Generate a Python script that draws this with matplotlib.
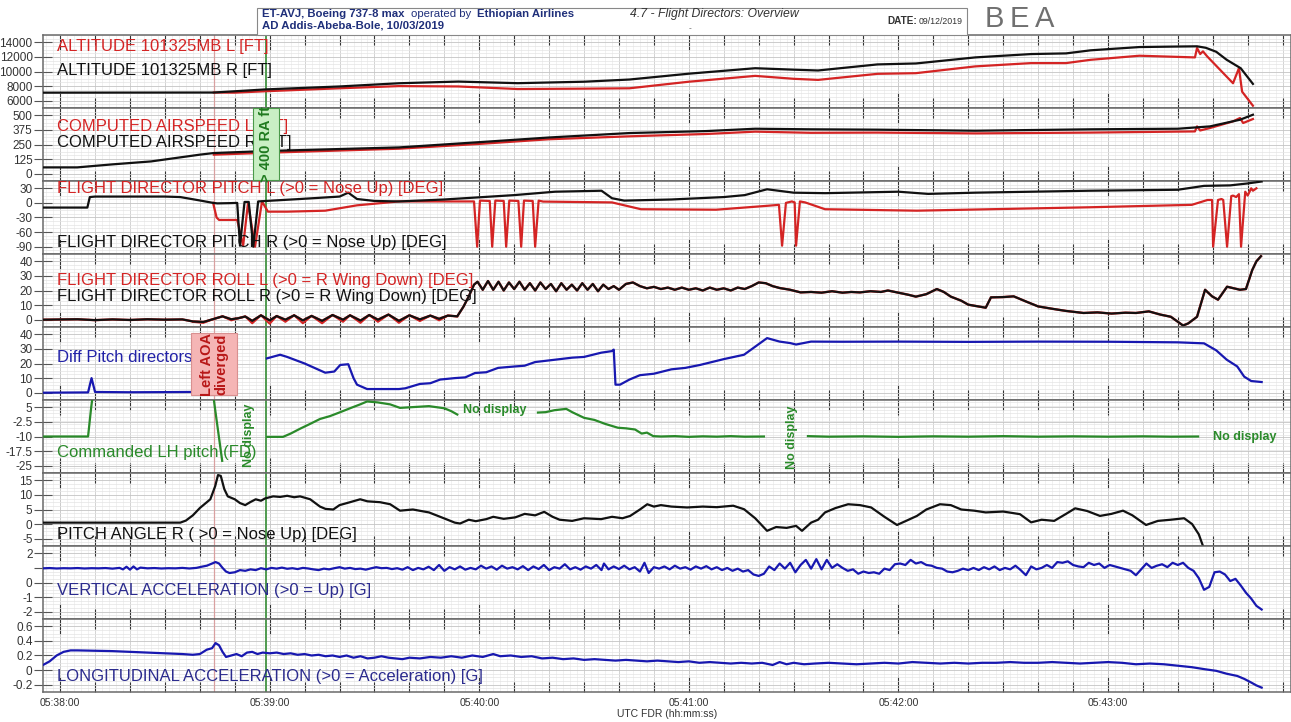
import matplotlib
matplotlib.use('Agg')
import matplotlib.pyplot as plt
from matplotlib.ticker import MultipleLocator, FuncFormatter
from matplotlib.patches import Rectangle
import numpy as np

plt.rcParams['font.family'] = ['Liberation Sans', 'DejaVu Sans']

W, H = 1291, 722
NAN = float('nan')

# time in seconds after 05:38:00 UTC
alt_r = [(-4.9, 7100), (44, 7120), (59, 7550), (80, 7950), (97, 8390), (114, 8620), (131, 8400),
         (150, 8600), (163, 8900), (180, 9700), (199, 10450), (210, 10250), (217, 10140), (234, 10970),
         (245, 11100), (262, 11930), (278, 12390), (288, 12480), (295, 12900), (309, 13350), (320, 13420),
         (325.5, 13450), (328, 13250), (331, 12700), (334, 11600), (338, 10450), (341.5, 8300)]
alt_l = [(44, 7120), (50, 7100), (59, 7300), (80, 7700), (97, 8000), (114, 7950), (131, 7600),
         (150, 7650), (163, 7700), (180, 8600), (199, 9400), (210, 9000), (217, 8850), (234, 9680),
         (245, 9770), (262, 10700), (278, 11150), (288, 11150), (295, 11600), (309, 12160), (324.9, 11930),
         (325.5, 13220), (326.4, 12390), (327.2, 12760), (328.4, 12070), (335.8, 8390), (337.5, 10460),
         (338.4, 7240), (341.5, 5310)]

cas_r = [(-4.9, 54), (4.9, 54), (15, 80), (26, 105), (40, 163), (44, 177), (60, 195), (97, 225),
         (120, 270), (140, 310), (163, 348), (185, 365), (199, 385), (215, 380), (234, 377), (262, 368),
         (295, 380), (320, 385), (329.2, 405), (337.8, 462), (341.5, 505)]
cas_l = [(44, 163), (60, 180), (97, 214), (120, 255), (140, 295), (163, 320), (185, 340), (199, 360),
         (215, 350), (234, 352), (262, 345), (295, 352), (324.9, 362), (325.5, 405), (326.4, 370),
         (329.2, 391), (335.8, 448), (337.8, 477), (338.7, 434), (341.5, 468)]

fd_pitch_r = [(-4.9, -9.6), (7.8, -9.6), (8.5, 12), (10, 13), (20, 13), (30, 13), (34.4, 12), (40, 5),
              (43.8, 0), (45, -1), (48.7, -0.5), (50.7, 0), (51.5, -88), (52.8, 2), (54, 2), (55.3, -90),
              (56.7, 3), (59, 4), (68.7, 8), (80, 13), (82.5, 21), (85, 8), (90, 4), (97, 3), (110, 7),
              (130, 16), (141.7, 23), (155, 25), (158, 9.6), (161.5, 4.7), (175, 7), (190, 12), (196, 16),
              (202.4, 28), (210, 21), (219, 20), (240, 23), (248.5, 18.5), (262, 21), (294.6, 25),
              (320, 27), (327.5, 35), (335, 36), (340, 40), (344, 44)]
fd_pitch_l = [(43.8, 0), (44.8, -30), (45.5, -35), (50.7, -35), (52.4, -88), (53.8, 0), (55.8, -90),
              (57.8, 3), (59.5, -18), (65, -18), (75.9, -16), (85, -5), (97, 3), (118.5, 3), (119.4, -90),
              (120.2, 4.7), (123, 4), (123.7, -90), (124.6, 4.7), (127, 4), (127.7, -90), (128.6, 4.7),
              (131.2, 4), (132, -90), (132.8, 4.7), (135.3, 4), (136, -90), (137, 4.7), (138.3, 2.7),
              (158, 1), (166.3, -13), (187.8, -14), (202.4, -6), (205.8, -4), (206.7, -88), (207.8, 0),
              (209.5, 3), (210.3, 1), (210.7, -88), (211.8, 3), (213.3, 1), (219, -13), (245.3, -16),
              (294.6, -9), (324, -4), (328.5, 6), (329.8, 6), (330.1, -90), (331.5, 6), (332.5, 8),
              (333, 6), (334.1, -90), (335.3, 14), (335.8, 15), (336.7, 12), (337.5, 18), (338.1, -90),
              (339.3, 23), (340, 15), (341, 30), (341.5, 25), (342.5, 30)]

fd_roll_r = [(-4.9, 0), (5, 0.3), (10, -0.3), (15, 0.2), (20, -0.2), (25, 0.3), (30, 0), (35, 0.2),
             (38, -1.2), (41, -1.6), (44, 0.5), (46.5, 2.3), (49, 0.3), (51, 1), (53, 2.2), (55, -0.8),
             (57.5, 3), (60, -0.5), (62, 2.5), (64.5, 0), (67, 3), (69.5, -0.5), (72, 2.6), (75, -0.8),
             (78, 3.2), (81, 0), (83, 3), (86, -0.6), (88.5, 3.2), (91, 0), (94, 3.5), (97, -0.8),
             (100, 3), (103, 0.2), (106, 2.8), (108.5, 0.6), (111, 2.8), (113.7, 2.3), (115.5, 9),
             (117, 16), (118.5, 24), (119.5, 26), (121, 20.5), (122.5, 26.5), (124, 20.5), (125.5, 26),
             (127, 20), (128.5, 25.5), (130, 21), (131.5, 26), (133, 20.5), (134.5, 25), (136, 20),
             (137.5, 25.5), (139, 21), (140.5, 24.5), (142, 19.5), (143.5, 25), (145, 20.5), (146.5, 24),
             (148, 20), (149.5, 25), (151, 20.5), (152.5, 24.5), (154, 19.5), (155.5, 24), (157, 21),
             (158.5, 23), (160, 20.5), (162, 24.5), (164, 25.5), (166, 23), (168, 21.5), (170, 22.5),
             (172, 21), (174, 22), (176, 20.5), (178, 22), (180, 20.5), (182, 21.5), (184, 20), (186, 22),
             (188, 20.5), (190, 21.5), (192, 20), (194, 22), (196, 21), (198, 23), (200, 25.5), (202, 25),
             (204, 23), (206, 21.7), (209, 20.5), (212, 18.7), (215, 19), (218, 18.5), (221, 19.5),
             (224, 18.5), (226.5, 19), (229, 18.7), (232, 19.5), (235, 19), (237, 20), (240, 18.5),
             (243, 17), (245, 15.8), (248, 17.5), (251, 21), (253, 19), (255, 15.8), (258, 13),
             (260, 10.3), (263, 9), (265, 8.2), (266.5, 15.3), (270, 15.5), (273, 16), (276.5, 12.5),
             (280, 9.1), (284, 7.5), (288, 6), (293, 4.6), (297, 5), (301, 4.2), (305, 4.8), (308, 4.6),
             (311.7, 5.7), (315, 3.5), (318, 2), (321.5, -4), (323, -2.5), (325.5, 2), (327.8, 20.5),
             (329.8, 16), (331.5, 13.7), (334.1, 22.6), (336, 21.5), (337.8, 20.5), (339.5, 21),
             (341.3, 34), (342.5, 40), (343.8, 43.5)]
fd_roll_l_dips = [(38, -1.5), (41, -2.2), (44, 0.5), (46.5, 2.3), (49, -0.5), (51, 1), (53, 2.2),
                  (55, -2.5), (57.5, 3), (60, -2.8), (62, 2.5), (64.5, -1.5), (67, 3), (69.5, -2.5),
                  (72, 2.6), (75, -2.5), (78, 3.2), (81, -1.5), (83, 3), (86, -2.2), (88.5, 3.2),
                  (91, -1.5), (94, 3.5), (97, -2.2), (100, 3), (103, -1), (106, 2.8), (108.5, -0.5),
                  (111, 2.8), (113.7, 2.3)]

diff_pitch = [(-4.9, 0), (8, 0.2), (9, 10), (10, 0.5), (20, 0.3), (30, 0.4), (44, 0.6), (50, NAN),
              (59.2, 23.5), (63, 26), (65, 24.5), (70, 20), (75.9, 13.7), (78.5, 14.5), (80.2, 19),
              (82.5, 19.5), (84, 10), (85, 5.5), (87.9, 2.5), (97, 2.5), (98.8, 3), (103, 6), (106, 6.5),
              (108.8, 9), (113, 10), (116, 10.5), (118.8, 13.5), (122, 14), (125.4, 17), (130.3, 18),
              (133, 18.5), (136, 21), (141.7, 22.6), (146.6, 24), (150, 24.5), (154.9, 27.4), (158, 28.5),
              (158.5, 29.5), (159, 5.5), (160.3, 5.5), (163, 9), (166, 12), (170, 13), (175, 16),
              (179, 17), (183.2, 19), (190, 23), (195.8, 26), (202.4, 37.4), (206, 35), (209, 34),
              (210.7, 33), (215, 35), (224, 34.9), (240, 35), (260, 34.8), (280, 35), (300, 34.9),
              (320, 34.5), (327.5, 33.8), (331, 29), (334, 22.6), (337, 18), (339, 11), (341, 8), (344, 7.3)]

cmd_pitch = [(-4.9, -10), (8.0, -10), (8.9, 5), (9.4, 12), (20, NAN),
             (43.8, 12), (44.3, 5), (46.4, -22.5), (50, NAN),
             (59.3, -10.2), (63.8, -10.2), (66, -8.5), (68.7, -6), (71.6, -3.5), (74.4, -1), (77.3, 0.5),
             (80.2, 2.5), (83, 4.5), (85.9, 6.5), (87.9, 8), (91, 7.5), (94.5, 6.5), (97.3, 4.7),
             (105.6, 5.6), (110, 4.5), (112, 3), (113.7, 1.3), (120, NAN),
             (136.8, 2.3), (139, 2.5), (141.5, 3.5), (144.9, 4.2), (146.6, 2.5), (150, -0.4), (153, -1.5),
             (156, -3.5), (159.7, -5.5), (162, -5.8), (164.6, -6.4), (166.5, -8.5), (168, -8),
             (169.8, -9.8), (172, -10), (176, -9.8), (180, -10.2), (184, -9.9), (188, -10.1), (192, -9.8),
             (196, -10.1), (201.5, -10), (205, NAN),
             (214.1, -9.8), (220, -10.1), (230, -9.9), (240, -10.2), (250, -9.9), (260, -10.1),
             (270, -9.8), (280, -10.1), (290, -9.9), (300, -10.1), (310, -9.9), (318, -10.1), (325.8, -10)]

pitch_att = [(-4.9, 0.5), (20, 0.5), (34.4, 0.5), (36, 1.2), (38, 3), (40, 5.5), (42, 7.5), (43, 8.5),
             (44.4, 13), (45.2, 16.8), (46, 16.5), (47, 12), (48, 9.5), (50, 8.5), (51.5, 7.2), (53, 6.5),
             (54.4, 7.5), (56, 8.5), (57.5, 8), (58.7, 8.8), (61, 9.5), (63, 9.3), (65, 9.7), (67, 9.2),
             (68.7, 9.5), (71.6, 8.5), (74.4, 6), (76, 5.2), (78.2, 5), (80, 6.5), (83, 7.5), (85.9, 8.5),
             (88, 7.8), (91.6, 7.5), (94.5, 6.8), (97.3, 4.6), (101, 5), (105.6, 4), (110.5, 1.7),
             (113, 0.5), (114.5, 0.2), (117, 1.5), (119, 1), (122, 1.7), (124, 2.5), (127, 1.8),
             (130.3, 2.3), (133, 3.5), (136, 3), (138.6, 4.2), (141, 2.5), (143, 1.5), (146.6, 1.1),
             (150, 2), (154.9, 1.7), (158, 2.5), (161, 2), (163.2, 2.8), (166, 5), (168.1, 6.8), (170, 6),
             (172, 6.5), (175, 6), (179.5, 5.7), (184, 6), (188, 5.8), (192.7, 6.3), (195.8, 5.1),
             (199, 2), (202.4, -2.3), (205, -1), (208, -1.3), (210.7, -0.6), (212.4, -2.3), (215, 0.5),
             (217, 1.5), (219, 4), (222, 5.5), (225.6, 6.8), (229, 6.5), (232.2, 5.7), (236, 2.5),
             (239.6, -0.3), (242, 1), (245.3, 2.8), (248, 5), (251.9, 6.8), (255, 6.5), (258, 5),
             (261.7, 4.6), (265, 4), (270, 4.3), (274.8, 3.4), (278, 0.6), (281, 1.5), (284.6, 1.1),
             (288, 3.5), (290.6, 5.4), (294, 4.5), (297.7, 2.8), (301, 3.5), (304.3, 4.6), (307, 3),
             (310.9, -0.3), (314.3, 1.1), (318, 1.5), (321.8, 2), (324.1, 0), (326, -3.5), (327.2, -7.5)]

vert_acc_t = [-4.9, -3, -1, 1, 3, 5, 7, 9, 11, 13, 15, 17, 18, 19, 20, 21, 22, 23, 25, 27, 29, 31, 33, 35,
              37, 39, 40.5, 42, 43.5, 44.5, 45.5, 46.5, 47.5, 48.5, 50, 51.5, 53, 54.5, 56, 57.5, 59, 60.5,
              62, 63.5, 65, 66.5, 68, 69.5, 71, 72.5, 74, 75.5, 77, 78.5, 80, 81.5, 83, 84.5, 86, 87.5,
              89, 90.5, 92, 93.5, 95, 96.5, 98, 99.5, 101, 102.5, 104, 105.5, 107, 108.5, 110, 111.5,
              113, 114.5, 116, 117.5, 119, 120.5, 122, 123.5, 125, 126.5, 128, 129.5, 131, 132.5, 134,
              135.5, 137, 138.5, 140, 141.5, 143, 144.5, 146, 147.5, 149, 150.5, 152, 153.5, 155, 155.7,
              157, 158.5, 160, 161.5, 163, 164.5, 166, 167.3, 168.5, 170, 171.5, 173, 174.5, 176, 177.5,
              179, 180.5, 182, 183.5, 185, 186.5, 188, 189.5, 191, 192.5, 194, 195.5, 197, 198.5, 200,
              201.5, 203, 204.5, 206, 207.5, 209, 210.5, 212, 213.5, 215, 216.5, 218, 219.5, 221, 222.5,
              224, 225.5, 227, 228.5, 230, 231.5, 233, 234.5, 236, 237.5, 239, 240.5, 242, 243.5, 245,
              246.5, 248, 249.5, 251, 252.5, 254, 255.5, 257, 258.5, 260, 261.5, 263, 264.5, 266, 267.5,
              269, 270.5, 272, 273.5, 275, 276.5, 278, 279.5, 281, 282.5, 284, 285.5, 287, 288.5, 290,
              291.5, 293, 294.5, 296, 297.5, 299, 300.5, 302, 303.5, 305, 306.5, 308, 309.5, 311, 312.5,
              314, 315.5, 317, 318.5, 320, 321.5, 323, 324.5, 326, 327.5, 329, 330.5, 332, 333.5, 335,
              336.5, 338, 339.5, 341, 342.5, 344]
vert_acc_g = [0.97, 0.99, 0.96, 0.98, 0.97, 0.99, 0.96, 0.98, 0.97, 0.99, 0.95, 1.0, 0.9, 1.08, 0.88, 1.1,
              0.9, 1.02, 0.97, 0.99, 0.96, 0.98, 0.97, 1.0, 0.96, 1.0, 1.08, 1.15, 1.3, 1.4, 1.3, 1.0,
              0.75, 0.65, 0.7, 0.85, 0.8, 0.9, 0.85, 0.98, 0.9, 1.0, 0.95, 1.02, 0.94, 0.98, 0.92, 1.0,
              0.96, 0.9, 0.85, 0.95, 0.9, 0.98, 1.05, 0.95, 1.0, 0.92, 0.95, 0.88, 0.97, 1.05, 0.98, 1.0,
              0.92, 0.98, 0.88, 1.05, 0.85, 1.0, 0.9, 1.08, 0.85, 1.2, 0.8, 1.05, 0.9, 1.1, 0.88, 1.0,
              0.9, 1.15, 0.95, 1.1, 0.88, 1.15, 0.95, 1.05, 0.9, 1.12, 0.85, 1.1, 0.92, 1.2, 0.85, 1.05,
              0.95, 1.25, 0.9, 1.05, 0.88, 1.1, 0.95, 1.2, 0.85, 1.3, 0.9, 1.1, 0.92, 1.15, 0.9, 1.05,
              0.75, 1.35, 0.65, 1.05, 0.95, 1.1, 0.9, 1.15, 0.95, 1.05, 0.88, 1.1, 0.95, 1.12, 0.9, 1.05,
              0.85, 1.0, 0.8, 0.95, 0.75, 0.85, 0.55, 0.45, 0.6, 1.1, 0.85, 1.3, 0.95, 1.35, 0.7, 1.2,
              1.55, 0.95, 1.6, 0.9, 1.55, 1.0, 1.25, 1.0, 0.8, 0.9, 0.6, 0.75, 0.65, 0.7, 0.6, 0.95,
              0.85, 1.25, 1.3, 1.2, 1.55, 1.3, 1.4, 1.2, 1.15, 1.0, 0.95, 0.75, 0.7, 0.8, 0.95, 0.85,
              1.0, 0.85, 1.05, 0.9, 1.1, 0.85, 1.0, 0.9, 1.15, 0.85, 0.5, 1.1, 0.9, 1.0, 1.2, 1.0, 1.4,
              1.35, 1.45, 1.2, 1.1, 1.05, 1.35, 1.2, 1.3, 1.0, 1.2, 1.1, 1.0, 0.9, 0.8, 0.5, 0.9, 1.3,
              1.0, 1.15, 1.25, 1.05, 1.35, 1.2, 1.35, 1.0, 0.8, 0.3, -0.5, -0.3, 0.7, 0.75, 0.55, 0.1,
              0.25, -0.2, -0.7, -1.1, -1.6, -1.85]

long_acc = [(-4.9, 0.07), (-3, 0.12), (-1, 0.2), (1, 0.25), (3, 0.27), (5, 0.27), (10, 0.265), (15, 0.26),
            (20, 0.25), (25, 0.24), (30, 0.23), (35, 0.22), (38, 0.21), (40, 0.22), (42, 0.28), (43.5, 0.3),
            (44.5, 0.37), (45.5, 0.34), (46.5, 0.25), (47.5, 0.18), (49, 0.2), (50.5, 0.22), (52, 0.19),
            (53.5, 0.24), (55, 0.25), (56.5, 0.22), (58, 0.24), (60, 0.23), (62, 0.24), (64, 0.22),
            (66, 0.23), (68, 0.21), (70, 0.22), (72, 0.2), (74, 0.21), (76, 0.19), (78, 0.2), (80, 0.18),
            (82, 0.2), (84, 0.17), (86, 0.19), (88, 0.16), (90, 0.17), (92, 0.19), (94, 0.17), (96, 0.16),
            (98, 0.15), (100, 0.17), (103, 0.16), (106, 0.18), (109, 0.17), (112, 0.19), (115, 0.17),
            (118, 0.2), (121, 0.18), (124, 0.22), (126, 0.19), (129, 0.2), (132, 0.18), (135, 0.19),
            (138, 0.16), (141, 0.17), (144, 0.15), (147, 0.16), (150, 0.14), (153, 0.15), (156, 0.14),
            (159, 0.13), (162, 0.14), (165, 0.13), (168, 0.12), (171, 0.13), (174, 0.12), (177, 0.11),
            (180, 0.12), (183, 0.1), (186, 0.11), (189, 0.1), (192, 0.09), (195, 0.1), (198, 0.09),
            (201, 0.1), (204, 0.07), (206, 0.11), (208, 0.08), (210, 0.1), (213, 0.08), (216, 0.09),
            (220, 0.1), (224, 0.09), (228, 0.08), (232, 0.09), (236, 0.1), (240, 0.09), (244, 0.11),
            (248, 0.1), (252, 0.09), (256, 0.1), (260, 0.09), (264, 0.1), (268, 0.1), (272, 0.11),
            (276, 0.1), (280, 0.1), (284, 0.11), (288, 0.1), (292, 0.09), (296, 0.1), (300, 0.11),
            (304, 0.1), (308, 0.08), (312, 0.09), (316, 0.08), (320, 0.06), (324, 0.04), (328, 0.01),
            (331, -0.01), (334, -0.05), (337, -0.08), (339, -0.12), (341, -0.17), (342.5, -0.21),
            (344, -0.24)]

panel_ticks = [[6000, 8000, 10000, 12000, 14000], [0, 125, 250, 375, 500], [-90, -60, -30, 0, 30],
               [0, 10, 20, 30, 40], [0, 10, 20, 30, 40], [-25, -17.5, -10, -2.5, 5],
               [-5, 0, 5, 10, 15], [-2, -1, 0, 1, 2], [-0.2, 0, 0.2, 0.4, 0.6]]

aoa_event_t = 44.1      # left AOA diverged
ra400_t = 59.0          # > 400 ft radio altitude

RED, BLACK, BLUE, GREEN = '#d42424', '#111111', '#1818b0', '#2a8a2a'


def px(x, y):
    return x / W, 1 - y / H


def lab(v):
    return str(int(v)) if float(v).is_integer() else str(v)


fig = plt.figure(figsize=(W / 100, H / 100), dpi=100)
fig.patch.set_facecolor('white')

x0, x1, top0, ph = 43, 1291, 35, 73
axes = []
for i, ticks in enumerate(panel_ticks):
    top = top0 + i * ph
    ax = fig.add_axes([x0 / W, 1 - (top + ph) / H, (x1 - x0) / W, ph / H])
    step = ticks[1] - ticks[0]
    lo, hi = ticks[0] - step / 2, ticks[-1] + step / 2
    ax.set_xlim(-4.9, 352.4)
    ax.set_ylim(lo, hi)
    ax.set_yticks(ticks)
    ax.set_yticklabels([lab(t) for t in ticks])
    ax.yaxis.set_minor_locator(MultipleLocator(step / 4))
    ax.xaxis.set_major_locator(MultipleLocator(60))
    ax.xaxis.set_minor_locator(MultipleLocator(10))
    ax.vlines(np.arange(-4, 352, 2), lo, hi, color='#ececec', lw=0.5, zorder=0)
    ax.grid(which='major', color='#c4c4c4', lw=0.6, zorder=0)
    ax.grid(which='minor', axis='x', color='#cfcfcf', lw=0.6, zorder=0)
    ax.grid(which='minor', axis='y', color='#e4e4e4', lw=0.5, zorder=0)
    ax.set_axisbelow(True)
    ax.tick_params(axis='y', which='major', direction='inout', length=13, width=0.8, color='#555',
                   labelsize=8.5, labelcolor='#333', pad=1)
    ax.tick_params(axis='y', which='minor', length=0)
    ax.tick_params(axis='x', which='major', direction='in', length=11, width=0.8, color='#333',
                   top=True, bottom=True, labelbottom=False)
    ax.tick_params(axis='x', which='minor', direction='in', length=7, width=0.8, color='#333',
                   top=True, bottom=True)
    for s in ax.spines.values():
        s.set_color('#6a6a6a')
        s.set_linewidth(1.1)
    ax.axvline(aoa_event_t, color='#d9a0a0', lw=0.9, zorder=1)
    ax.axvline(ra400_t, color='#4f9a4f', lw=1.4, zorder=1)
    axes.append(ax)


def draw(ax, pts, color, lw=1.6, z=3):
    t, v = zip(*pts)
    ax.plot(t, v, color=color, lw=lw, zorder=z, solid_joinstyle='round')


draw(axes[0], alt_l, RED)
draw(axes[0], alt_r, BLACK)
draw(axes[1], cas_l, RED)
draw(axes[1], cas_r, BLACK)
draw(axes[2], fd_pitch_l, RED)
draw(axes[2], fd_pitch_r, BLACK)
draw(axes[3], fd_roll_r, RED, lw=1.7)
draw(axes[3], fd_roll_l_dips, RED, lw=1.4)
draw(axes[3], fd_roll_r, BLACK, lw=1.55)
draw(axes[4], diff_pitch, BLUE)
draw(axes[5], cmd_pitch, GREEN)
draw(axes[6], pitch_att, BLACK)
axes[7].plot(vert_acc_t, vert_acc_g, color=BLUE, lw=1.6, zorder=3)
axes[7].set_yticklabels(['-2', '-1', '0', '', '2'])
draw(axes[8], long_acc, BLUE)

bottom = axes[-1]
bottom.tick_params(axis='x', which='major', labelbottom=True, labelsize=7.5, labelcolor='#333', pad=4)
bottom.xaxis.set_major_formatter(FuncFormatter(
    lambda t, _: f"05:{38 + int(round(t)) // 60:02d}:{int(round(t)) % 60:02d}"))
bottom.set_xlabel('UTC FDR (hh:mm:ss)', fontsize=7.5, color='#333', labelpad=1)

# panel captions
captions = [
    (46, 'ALTITUDE 101325MB L [FT]', RED), (70, 'ALTITUDE 101325MB R [FT]', BLACK),
    (127, 'COMPUTED AIRSPEED L [KT]', RED), (142, 'COMPUTED AIRSPEED R [KT]', BLACK),
    (188, 'FLIGHT DIRECTOR PITCH L (>0 = Nose Up) [DEG]', RED),
    (242, 'FLIGHT DIRECTOR PITCH R (>0 = Nose Up) [DEG]', BLACK),
    (280, 'FLIGHT DIRECTOR ROLL L (>0 = R Wing Down) [DEG]', RED),
    (296, 'FLIGHT DIRECTOR ROLL R (>0 = R Wing Down) [DEG]', BLACK),
    (358, 'Diff Pitch directors', '#2222a8'),
    (452, 'Commanded LH pitch (FD)', GREEN),
    (535, 'PITCH ANGLE R ( >0 = Nose Up) [DEG]', BLACK),
    (591, 'VERTICAL ACCELERATION (>0 = Up) [G]', '#2b2b8e'),
    (677, 'LONGITUDINAL ACCELERATION (>0 = Acceleration) [G]', '#2b2b8e'),
]
for y, txt, c in captions:
    fig.text(*px(57, y), txt, color=c, fontsize=12, va='center', ha='left', zorder=5)

# annotation boxes
bx, by = px(253, 180)
fig.add_artist(Rectangle((bx, by), 26 / W, 72 / H, transform=fig.transFigure,
                         facecolor='#c9efc4', edgecolor='#4a9a4a', lw=0.8, zorder=8))
fig.text(*px(266, 144), '> 400 RA ft', rotation=90, color='#1f7a1f', fontsize=10.5,
         fontweight='bold', ha='center', va='center', zorder=9)

bx, by = px(191, 395)
fig.add_artist(Rectangle((bx, by), 46 / W, 62 / H, transform=fig.transFigure,
                         facecolor='#f5b5b5', edgecolor='#d99090', lw=0.8, zorder=8))
fig.text(*px(214, 364), 'Left AOA\ndiverged', rotation=90, color='#b81818', fontsize=10.5,
         fontweight='bold', ha='center', va='center', linespacing=1.0, multialignment='center', zorder=9)

nd = dict(color=GREEN, fontsize=9, fontweight='bold', zorder=9)
fig.text(*px(249, 435), 'No display', rotation=90, ha='center', va='center', **nd)
fig.text(*px(463, 410), 'No display', ha='left', va='center', **nd)
fig.text(*px(792, 437), 'No display', rotation=90, ha='center', va='center', **nd)
fig.text(*px(1213, 437), 'No display', ha='left', va='center', **nd)

# header
hx, hy = px(257, 35)
fig.add_artist(Rectangle((hx, hy), (967 - 257) / W, 27 / H, transform=fig.transFigure,
                         facecolor='white', edgecolor='#888', lw=0.8, zorder=4))
hdr = dict(color='#1f2f7a', fontsize=8.2, va='center', zorder=5)
fig.text(*px(262, 14), 'ET-AVJ, Boeing 737-8 max', fontweight='bold', **hdr)
fig.text(*px(411, 14), 'operated by', **hdr)
fig.text(*px(477, 14), 'Ethiopian Airlines', fontweight='bold', **hdr)
fig.text(*px(262, 25), 'AD Addis-Abeba-Bole, 10/03/2019', fontweight='bold', **hdr)
fig.text(*px(630, 14), '4.7 - Flight Directors: Overview', color='#333', fontsize=8.8,
         style='italic', va='center', zorder=5)
fig.text(*px(690, 29), '-', color='#555', fontsize=6, ha='center', va='center', zorder=5)
fig.text(*px(887, 21), 'DATE:', color='#333', fontsize=7.2, fontweight='bold', va='center', zorder=5)
fig.text(*px(919, 21), '09/12/2019', color='#333', fontsize=6.3, va='center', zorder=5)
for xl, ch in zip([985, 1010, 1035], 'BEA'):
    fig.text(*px(xl, 19), ch, color='#707070', fontsize=21, va='center', ha='left', zorder=5)

fig.savefig('out.png', dpi=100, facecolor='white')
